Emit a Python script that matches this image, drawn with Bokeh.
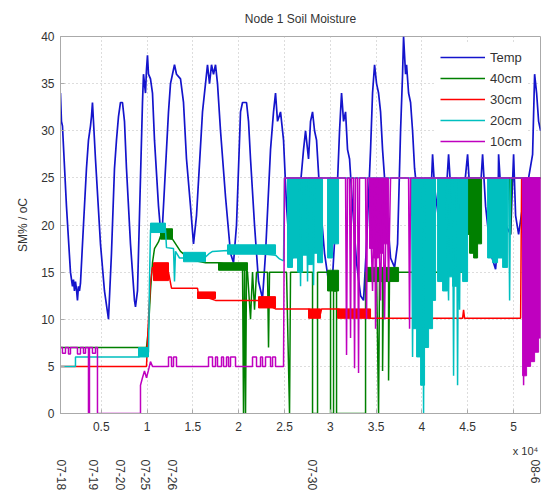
from bokeh.plotting import figure
from bokeh.models import FixedTicker, Legend, LegendItem, Range1d, LinearAxis
from bokeh.embed import file_html
from bokeh.resources import INLINE

# ---------------- data (sample index, value) ----------------
temp_x = [546, 655, 764, 1201, 1638, 1856, 1966, 2075, 2184, 2293, 2402, 2512, 2621, 2730,
          3058, 3385, 3604, 3822, 3931, 4040, 4150, 4368, 4914, 5351, 5788, 6115, 6443, 6661,
          6880, 7098, 7316, 7535, 7753, 8190, 8627, 8736, 8954, 9282, 9500, 9610, 9719, 9828,
          9937, 10046, 10156, 10374, 10592, 10811, 11248, 11466, 11684, 11903, 12340, 12558,
          12776, 12995, 13213, 13650, 13978, 14305, 14742, 15070, 15397, 16052, 16380, 16598,
          16817, 17035, 17254, 17472, 17690, 18018, 18564, 19110, 19438, 19765, 20202, 20420,
          20857, 21076, 21294, 21731, 22168, 22604, 22932, 23478, 23806, 24024, 24242, 24570,
          24898, 25225, 25662, 26099, 26536, 27082, 27300, 27628, 27846, 28064, 28283, 28501,
          28938, 29375, 29811, 30248, 30685, 31013, 31231, 31450, 31668, 31886, 32105, 32432,
          32869, 33306, 33634, 33961, 34398, 34616, 34835, 35053, 35272, 35490, 35708, 36145,
          36582, 37019, 37346, 37674, 37892, 38002, 38220, 38329, 38548, 38766, 38984, 39203,
          39421, 39858, 40404, 40950, 41168, 41387, 42042, 42697, 42916, 43134, 43789, 44444,
          44990, 45209, 45755, 46410, 46628, 46956, 47502, 48048, 48266, 48376, 48594, 49140,
          49686, 50014, 50232, 50560, 50996, 51652, 52088, 52307, 52525, 52744, 52962]
temp_y = [34, 31, 30.5, 22, 15, 13.5, 14.2, 13, 14, 13.2, 12, 13.5, 13, 13.8,
          20, 26, 29, 30.5, 31.5, 33, 31, 27, 18, 13, 10, 17, 26, 29,
          31.5, 33, 33, 31, 26, 18, 12, 11.3, 13, 25, 33, 36, 35, 34,
          36.5, 38, 36, 35.5, 34, 29, 22, 19.5, 20, 24, 32, 35,
          36, 37, 36, 35.5, 33, 27, 22, 18, 21, 32, 35, 37,
          35, 37, 36, 37, 35, 30, 23, 17, 16, 20, 32, 33,
          33, 31, 27, 20, 14, 12.2, 17, 28, 32, 34, 31, 32,
          29, 22, 16, 17, 22, 28, 30, 27, 31, 32, 30, 29,
          22, 17, 14, 14.5, 22, 30, 34, 31, 32, 28, 27, 22,
          16, 12.5, 12, 18, 28, 34, 37, 35, 34, 32, 28, 22,
          16.5, 15.5, 18, 30, 36, 40, 36, 37, 34, 33, 30, 26,
          24, 20, 17, 22, 27.5, 24, 19, 24, 27.5, 24, 20, 22,
          27.5, 24, 20, 24, 27.5, 22, 17, 15.3, 18, 27.5, 24, 20,
          19, 27.5, 21, 19, 22, 25, 27.5, 36, 34, 31, 30]

cm40_x = [546, 9937, 10156, 10374, 10592, 10811, 11248, 11466, 12776, 13650, 14742, 16380,
          17800, 20420, 20530, 20640, 20750, 20857, 20966, 21294, 21512, 21730, 21949, 23150,
          23260, 23369, 25225, 25553, 25662, 28064, 28064, 28610, 28610, 29702, 30030, 30030,
          30358, 30358, 30685, 30685, 33852, 33852, 35053, 35272, 35381, 35708, 35708, 35817,
          36363, 36363, 36472, 44772, 44772, 49577, 49686, 49795, 52962]
cm40_y = [7, 7, 9, 13, 16, 17.5, 18.2, 18.8, 18.5, 17.2, 16.3, 16,
          16, 15.5, 0, 15.5, 0, 15.3, 15, 10, 15, 11, 15, 15,
          7, 15, 15, 0, 15, 15, 0, 0, 15, 15, 13, 0,
          0, 13, 13, 0, 0, 15, 15, 0, 15, 15, 4.5, 15,
          15, 3.5, 15, 15, 25, 25, 19, 25, 25]
cm40_band_l = [11466, 17800, 29702, 33961, 44772, 45209, 45646, 46082]
cm40_band_r = [12776, 20966, 30904, 37456, 45209, 45646, 46082, 46519]
cm40_band_lo = [18.5, 15.2, 13, 14, 19, 17, 16.5, 18]
cm40_band_hi = [19.6, 16, 15.2, 15.5, 25, 25, 25, 25]

cm30_x = [546, 9937, 10156, 10374, 10592, 12340, 12667, 15506, 15615, 17472, 22168, 24024,
          27628, 28938, 29048, 30794, 34398, 44444, 44553, 44662, 50780, 50889, 52962]
cm30_y = [5, 5, 10, 14, 15.5, 15, 13.3, 13.3, 12.6, 12, 12, 11.1,
          11.1, 10.6, 11.1, 11.1, 10.1, 10.1, 11, 10.1, 10.1, 25, 25]
cm30_band_l = [10702, 15506, 22168, 27628, 30794]
cm30_band_r = [12340, 17472, 24024, 28938, 34398]
cm30_band_lo = [14.1, 12.2, 11.2, 10.1, 10.1]
cm30_band_hi = [16, 12.9, 12.4, 11.1, 11.1]

cm20_x = [546, 2184, 2184, 9064, 10156, 10265, 10374, 12012, 12121, 12886, 12995, 13104,
          13541, 13978, 16380, 16817, 17145, 18782, 24024, 24461, 24898, 25007, 26646, 26755,
          26864, 27410, 27519, 27628, 28064, 28173, 28283, 38875, 38984, 39094, 40077, 40186,
          40295, 42588, 42916, 43025, 43352, 43461, 43570, 43789, 43898, 44007, 44116, 44225,
          49468, 49577, 49686, 52962]
cm20_y = [5, 5, 6, 6, 6.5, 14, 19.5, 19.5, 17.6, 17.5, 14, 17.2,
          16.5, 16.5, 16.6, 17, 17.2, 17.3, 16.8, 16.4, 16.2, 25, 25, 13.5,
          25, 25, 14, 25, 25, 13.6, 25, 25, 6, 25, 25, 0,
          25, 25, 12, 25, 25, 4, 25, 25, 3, 25, 11, 25,
          25, 12, 25, 25]
cm20_band_l = [9064, 10374, 13978, 18782, 25334, 25880, 26426, 26972, 27518, 28064, 28610,
               29702, 30248, 38984, 39421, 39858, 40295, 40732, 41168, 41714, 42260, 42806,
               43352, 43898, 44444, 47174, 47720, 48266, 48812]
cm20_band_r = [10156, 12012, 16380, 24024, 25880, 26426, 26972, 27518, 28064, 28610, 29156,
               30248, 30904, 39421, 39858, 40295, 40732, 41168, 41496, 42260, 42806, 43352,
               43898, 44444, 44990, 47720, 48266, 48812, 49358]
cm20_band_lo = [6, 19.2, 16.1, 16.9, 15.5, 16.5, 15, 16.8, 15.8, 17, 16,
                16.5, 18, 9, 6, 3, 7, 9, 12, 14, 13, 14.5,
                13.5, 15, 14, 16.5, 16, 16.5, 15.5]
cm20_band_hi = [7, 20.2, 17.1, 17.9, 25, 25, 25, 25, 25, 25, 25,
                25, 25, 25, 25, 25, 25, 25, 25, 25, 25, 25,
                25, 25, 25, 25, 25, 25, 25]

cm10_x = [546, 764, 764, 1092, 1092, 1420, 1420, 1638, 1638, 2402, 2402, 2730, 2730, 3058,
          3058, 3276, 3276, 3604, 3604, 3713, 3713, 4040, 4040, 4368, 4368, 4586, 4586, 9282,
          9282, 9500, 9719, 9937, 10156, 10374, 10592,
          12340, 12340, 12667, 12667, 12886, 12886, 13213, 13213,
          16708, 16708, 17144, 17144, 17472, 17472, 17690, 17690, 18127, 18127, 18346, 18346,
          18673, 18673, 18892, 18892, 19110, 19110, 19656, 19656,
          21512, 21512, 21949, 21949, 22386, 22386, 22604, 22604, 22932, 22932, 23478, 23478,
          23697, 23697, 24024, 24024,
          24898, 25007, 31668, 31777, 31886, 32105, 32214, 32323, 32541, 32650, 32760,
          32978, 33087, 33197, 33852, 33961, 34070, 34289, 34616, 34835, 34944, 35162, 35490,
          35708, 35926, 36145, 36363, 36582, 38548, 38657, 38766, 50996, 51105, 51214, 52962]
cm10_y = [7, 7, 6.4, 6.4, 7, 7, 6.3, 6.3, 7, 7, 6.3, 6.3, 7, 7,
          6.4, 6.4, 7, 7, 0, 0, 7, 7, 6.4, 6.4, 7, 7, 0, 0,
          3, 3.8, 4.5, 3.8, 4.6, 5.5, 5,
          5, 6, 6, 5, 5, 6, 6, 5,
          5, 6, 6, 5, 5, 6, 6, 5, 5, 6, 6, 5,
          5, 6, 6, 5, 5, 6, 6, 5,
          5, 6, 6, 5, 5, 6, 6, 5, 5, 6, 6, 5,
          5, 6, 6, 5,
          5, 25, 25, 6.2, 25, 25, 8, 25, 25, 4.8, 25,
          25, 4.3, 25, 25, 10, 25, 25, 13, 25, 9, 25, 12,
          25, 10, 25, 14, 25, 25, 9, 25, 25, 3, 25, 25]
cm10_band_l = [34289, 34726, 35272, 35818, 50996, 51433, 51870, 52306, 52743]
cm10_band_r = [34726, 35272, 35818, 36364, 51433, 51870, 52306, 52743, 52962]
cm10_band_lo = [17.5, 16.5, 17, 18, 4, 5, 5.5, 6.5, 8]
cm10_band_hi = [25, 25, 25, 25, 25, 25, 25, 25, 25]

x_ticks = [5000, 10000, 15000, 20000, 25000, 30000, 35000, 40000, 45000, 50000]
x_tick_labels = ["0.5", "1", "1.5", "2", "2.5", "3", "3.5", "4", "4.5", "5"]
y_ticks = [0, 5, 10, 15, 20, 25, 30, 35, 40]

date_x = [650, 4150, 7098, 9828, 12776, 28064, 52416]
date_labels = ["07-18", "07-19", "07-20", "07-25", "07-26", "07-30", "08-6"]
exp_x = [51310]
exp_label = ["x 10\u2074"]

series_names = ["Temp", "40cm", "30cm", "20cm", "10cm"]
colors = ["#1414cc", "#008000", "#ff0000", "#00bfbf", "#bf00bf"]

FONT = "Liberation Sans"
TXT = "#333333"

p = figure(width=545, height=493, output_backend="svg", toolbar_location=None,
           x_range=Range1d(550, 52950), y_range=Range1d(0, 40),
           min_border_left=60, min_border_right=5, min_border_top=36, min_border_bottom=80,
           background_fill_color="white", border_fill_color="white",
           title="Node 1 Soil Moisture")
p.title.align = "center"
p.title.text_font = FONT
p.title.text_font_size = "12px"
p.title.text_font_style = "normal"
p.title.text_color = TXT
p.title.vertical_align = "top"
p.title.standoff = 18

p.outline_line_color = "#aaaaaa"
p.xaxis.ticker = FixedTicker(ticks=x_ticks)
p.xaxis.major_label_overrides = {t: l for t, l in zip(x_ticks, x_tick_labels)}
p.yaxis.ticker = FixedTicker(ticks=y_ticks)
for ax in (p.xaxis, p.yaxis):
    ax.axis_line_color = "#aaaaaa"
    ax.major_tick_line_color = "#aaaaaa"
    ax.major_tick_in = 4
    ax.major_tick_out = 0
    ax.minor_tick_line_color = None
    ax.major_label_text_font = FONT
    ax.major_label_text_font_size = "12px"
    ax.major_label_text_color = TXT
p.xaxis.major_label_standoff = 8
p.yaxis.major_label_standoff = 6
p.yaxis.axis_label = "SM% / oC"
p.yaxis.axis_label_text_font = FONT
p.yaxis.axis_label_text_font_size = "12px"
p.yaxis.axis_label_text_font_style = "normal"
p.yaxis.axis_label_text_color = TXT
p.yaxis.axis_label_standoff = 8
p.grid.grid_line_color = "#bbbbbb"
p.grid.grid_line_dash = "1 3"

# exponent note and date labels as extra axes below
exp_axis = LinearAxis(ticker=FixedTicker(ticks=exp_x),
                      major_label_overrides={t: l for t, l in zip(exp_x, exp_label)})
date_axis = LinearAxis(ticker=FixedTicker(ticks=date_x),
                       major_label_overrides={t: l for t, l in zip(date_x, date_labels)})
for ax in (exp_axis, date_axis):
    ax.axis_line_color = None
    ax.major_tick_line_color = None
    ax.minor_tick_line_color = None
    ax.major_tick_in = 0
    ax.major_tick_out = 0
    ax.major_label_text_font = FONT
    ax.major_label_text_color = TXT
exp_axis.major_label_text_font_size = "11px"
exp_axis.major_label_standoff = 11
date_axis.major_label_text_font_size = "12px"
date_axis.major_label_orientation = "vertical"
date_axis.major_label_standoff = 0
p.add_layout(exp_axis, "below")
p.add_layout(date_axis, "below")

renderers = []
r = p.line(temp_x, temp_y, color=colors[0], line_width=1.7)
renderers.append(r)

for (xs, ys, bl, br, blo, bhi), c in zip(
        [(cm40_x, cm40_y, cm40_band_l, cm40_band_r, cm40_band_lo, cm40_band_hi),
         (cm30_x, cm30_y, cm30_band_l, cm30_band_r, cm30_band_lo, cm30_band_hi),
         (cm20_x, cm20_y, cm20_band_l, cm20_band_r, cm20_band_lo, cm20_band_hi),
         (cm10_x, cm10_y, cm10_band_l, cm10_band_r, cm10_band_lo, cm10_band_hi)],
        colors[1:]):
    p.quad(left=bl, right=br, bottom=blo, top=bhi, fill_color=c, line_color=c, line_width=1)
    r = p.line(xs, ys, color=c, line_width=1.5)
    renderers.append(r)

legend = Legend(items=[LegendItem(label=n, renderers=[rr]) for n, rr in zip(series_names, renderers)],
                location=(376, 259))
legend.glyph_width = 45
legend.glyph_height = 18
legend.label_height = 18
legend.spacing = 3
legend.label_standoff = 5
legend.padding = 4
legend.margin = 0
legend.border_line_alpha = 0
legend.background_fill_color = "white"
legend.background_fill_alpha = 1
legend.label_text_font = FONT
legend.label_text_font_size = "13px"
legend.label_text_color = TXT
p.add_layout(legend)

open("out.html", "w").write(file_html(p, INLINE))
